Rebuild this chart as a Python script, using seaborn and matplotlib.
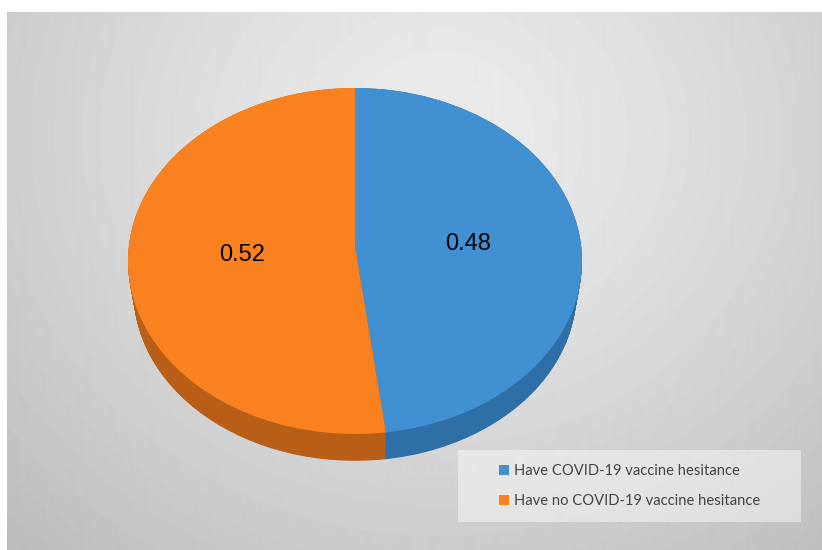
import numpy as np
import matplotlib
matplotlib.use("Agg")
import matplotlib.pyplot as plt
from matplotlib.patches import Patch, Rectangle
from matplotlib.transforms import Affine2D, Transform
import seaborn as sns

categories = ["Have COVID-19 vaccine hesitance", "Have no COVID-19 vaccine hesitance"]
shares = [0.48, 0.52]
top_colors = ["#4191d2", "#f98120"]
side_colors = ["#2f6fa8", "#b85e16"]


class TiltTransform(Transform):
    """Projective map that keeps the unit circle but moves its centre upward."""
    input_dims = 2
    output_dims = 2

    def __init__(self, a):
        super().__init__()
        self.a = a

    def transform_non_affine(self, values):
        v = np.asarray(values, dtype=float)
        w = 1 + self.a * v[:, 1]
        return np.column_stack((v[:, 0] * np.sqrt(1 - self.a ** 2) / w,
                                (v[:, 1] + self.a) / w))


sns.set_theme(style="white")
plt.rcParams["font.family"] = ["Lato", "DejaVu Sans"]

W, H = 822, 550
fig = plt.figure(figsize=(W / 100, H / 100), dpi=100, facecolor="white")

# Full-figure canvas in pixel coordinates for the backdrop
canvas = fig.add_axes([0, 0, 1, 1])
canvas.axis("off")

# Soft radial backdrop with faint contour bands, brightest behind the pie's upper part
px, py = np.meshgrid(np.arange(7, W), np.arange(12, H))
dist = np.hypot((px - 440) / 520, (py - 135) / 470)
shade = 0.925 - 0.15 * dist ** 1.3
shade = np.round(shade * 170) / 170
canvas.imshow(shade, cmap="gray", vmin=0, vmax=1, extent=(7, W, H, 12),
              aspect="auto", interpolation="bilinear", zorder=0)
canvas.set_xlim(0, W)
canvas.set_ylim(H, 0)

# Translucent legend panel
canvas.add_patch(Rectangle((458, 450), 343, 72, facecolor="white", alpha=0.45,
                           edgecolor="none", zorder=1))

# Pie axes span the ellipse plus its extruded rim
left, right, top, bottom, depth = 128, 582, 88, 434, 27
ax = fig.add_axes([left / W, 1 - (bottom + depth) / H, (right - left) / W,
                   (bottom + depth - top) / H])
ax.patch.set_alpha(0)

ry = (bottom - top) / 2
rim = depth / ry
tilt = TiltTransform(0.085)

# Rim: stacked layers shrink toward the far edge for a perspective look
for t in np.linspace(1, 0, 40):
    radius = 1 - 0.025 * t
    drop = 0.18 * t
    wedges, _ = ax.pie(shares, colors=side_colors, startangle=90, counterclock=False,
                       wedgeprops={"linewidth": 0})
    for wedge in wedges:
        wedge.set_transform(tilt + Affine2D().scale(radius).translate(0, -drop) + ax.transData)

wedges, _ = ax.pie(shares, colors=top_colors, startangle=90, counterclock=False,
                   wedgeprops={"linewidth": 0})
for wedge in wedges:
    wedge.set_transform(tilt + ax.transData)

ax.set_aspect("auto")
ax.set_xlim(-1, 1)
ax.set_ylim(-1 - rim, 1)
ax.axis("off")

# Value labels sit at mid-radius of each wedge, nudged slightly upward
start = 90.0
for value in shares:
    sweep = value * 360
    mid = np.deg2rad(start - sweep / 2)
    ax.text(0.5 * np.cos(mid), 0.5 * np.sin(mid) + 0.068, f"{value:.2f}",
            ha="center", va="center", color="black", fontsize=17,
            family="Liberation Sans")
    start -= sweep

handles = [Patch(facecolor=c, edgecolor="none") for c in top_colors]
fig.legend(handles, categories, loc="upper left",
           bbox_to_anchor=(499 / W, 1 - 464 / H), frameon=False, fontsize=10.6,
           labelcolor="#444444", handlelength=0.68, handleheight=0.68,
           handletextpad=0.36, labelspacing=1.08, borderpad=0, borderaxespad=0)

fig.savefig("out.png", dpi=100, facecolor="white")
